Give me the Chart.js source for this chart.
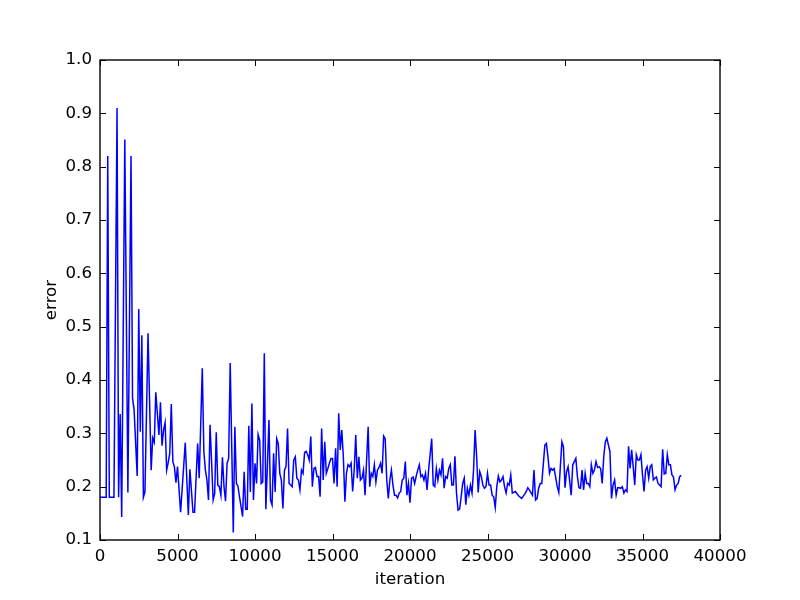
<!DOCTYPE html>
<html>
<head>
<meta charset="utf-8">
<script src="https://cdn.jsdelivr.net/npm/chart.js@4.4.1/dist/chart.umd.min.js"></script>
<style>
  html, body { margin: 0; padding: 0; background: #fff; }
</style>
</head>
<body>
<canvas id="c" width="800" height="600"></canvas>
<script>
// training curve (iteration -> error)
const iterations = [
  0, 400, 500, 600, 900, 1100, 1200, 1300, 1400, 1600,
  1800, 2000, 2100, 2200, 2400, 2500, 2600, 2700, 2800, 2900,
  3100, 3300, 3400, 3500, 3600, 3700, 3800, 3900, 4000, 4100,
  4200, 4300, 4400, 4500, 4600, 4700, 4800, 4900, 5000, 5200,
  5500, 5700, 5800, 6000, 6100, 6300, 6400, 6600, 6700, 6800,
  6900, 7000, 7100, 7300, 7400, 7500, 7600, 7700, 7800, 7900,
  8000, 8100, 8200, 8300, 8400, 8600, 8700, 8800, 8900, 9000,
  9100, 9200, 9300, 9400, 9500, 9600, 9700, 9800, 9900, 10000,
  10100, 10200, 10300, 10400, 10500, 10600, 10700, 10800, 10900, 11000,
  11100, 11200, 11300, 11400, 11500, 11600, 11700, 11800, 11900, 12000,
  12100, 12200, 12300, 12400, 12500, 12600, 12700, 12800, 12900, 13000,
  13100, 13200, 13300, 13400, 13500, 13600, 13700, 13800, 13900, 14000,
  14100, 14200, 14300, 14400, 14500, 14600, 14700, 14800, 14900, 15000,
  15100, 15200, 15300, 15400, 15500, 15600, 15700, 15800, 15900, 16000,
  16100, 16200, 16300, 16400, 16500, 16600, 16700, 16800, 16900, 17000,
  17100, 17200, 17300, 17400, 17500, 17600, 17700, 17800, 17900, 18000,
  18100, 18200, 18300, 18400, 18500, 18600, 18700, 18800, 18900, 19000,
  19100, 19200, 19300, 19400, 19500, 19600, 19700, 19800, 19900, 20000,
  20100, 20200, 20300, 20400, 20500, 20600, 20700, 20800, 20900, 21000,
  21100, 21200, 21400, 21500, 21600, 21700, 21800, 21900, 22000, 22100,
  22200, 22300, 22400, 22500, 22600, 22700, 22800, 22900, 23000, 23100,
  23200, 23300, 23400, 23500, 23600, 23700, 23800, 23900, 24000, 24100,
  24200, 24300, 24400, 24500, 24600, 24700, 24800, 24900, 25000, 25100,
  25200, 25300, 25400, 25500, 25600, 25700, 25800, 25900, 26000, 26100,
  26200, 26300, 26400, 26500, 26600, 26800, 27000, 27200, 27400, 27500,
  27600, 27700, 27900, 28000, 28100, 28200, 28300, 28400, 28500, 28700,
  28800, 28900, 29000, 29100, 29200, 29300, 29500, 29600, 29700, 29800,
  29900, 30000, 30100, 30200, 30400, 30500, 30600, 30700, 30800, 30900,
  31000, 31100, 31200, 31300, 31400, 31500, 31600, 31700, 31800, 31900,
  32000, 32100, 32200, 32300, 32400, 32500, 32600, 32700, 32800, 32900,
  33000, 33100, 33200, 33300, 33400, 33500, 33600, 33700, 33800, 33900,
  34000, 34100, 34200, 34300, 34400, 34500, 34600, 34700, 34800, 34900,
  35000, 35100, 35200, 35300, 35400, 35500, 35600, 35700, 35800, 35900,
  36000, 36100, 36200, 36300, 36400, 36500, 36600, 36700, 36800, 36900,
  37000, 37100, 37200, 37300, 37400, 37500
];
const errors = [
  0.18, 0.18, 0.82, 0.18, 0.18, 0.91, 0.18, 0.336, 0.143, 0.851,
  0.189, 0.82, 0.366, 0.344, 0.22, 0.533, 0.303, 0.484, 0.18, 0.19,
  0.4875, 0.231, 0.291, 0.283, 0.377, 0.3375, 0.297, 0.358, 0.277, 0.306,
  0.32, 0.231, 0.245, 0.2625, 0.355, 0.247, 0.2375, 0.2075, 0.2375, 0.152,
  0.2825, 0.147, 0.2325, 0.152, 0.152, 0.281, 0.216, 0.422, 0.266, 0.231,
  0.2125, 0.175, 0.316, 0.175, 0.1875, 0.302, 0.203, 0.2, 0.184, 0.255,
  0.2, 0.173, 0.244, 0.253, 0.432, 0.114, 0.3125, 0.206, 0.201, 0.181,
  0.1625, 0.144, 0.228, 0.1575, 0.1575, 0.314, 0.19, 0.356, 0.175, 0.244,
  0.206, 0.298, 0.2875, 0.206, 0.209, 0.45, 0.1575, 0.24, 0.325, 0.175,
  0.166, 0.2625, 0.19, 0.29, 0.281, 0.225, 0.2125, 0.159, 0.231, 0.2375,
  0.309, 0.206, 0.203, 0.2, 0.25, 0.256, 0.216, 0.2125, 0.194, 0.231,
  0.225, 0.264, 0.266, 0.26, 0.25, 0.294, 0.2, 0.234, 0.236, 0.219,
  0.219, 0.181, 0.309, 0.2125, 0.284, 0.225, 0.234, 0.244, 0.253, 0.253,
  0.206, 0.272, 0.2, 0.3375, 0.269, 0.306, 0.256, 0.172, 0.225, 0.241,
  0.2375, 0.244, 0.191, 0.231, 0.297, 0.216, 0.256, 0.2125, 0.216, 0.231,
  0.184, 0.25, 0.3125, 0.2, 0.225, 0.219, 0.241, 0.209, 0.231, 0.236,
  0.244, 0.225, 0.295, 0.29, 0.2125, 0.178, 0.2125, 0.231, 0.203, 0.184,
  0.184, 0.179, 0.188, 0.191, 0.2125, 0.216, 0.247, 0.184, 0.206, 0.17,
  0.216, 0.218, 0.206, 0.22, 0.231, 0.241, 0.219, 0.222, 0.2125, 0.225,
  0.194, 0.231, 0.29, 0.203, 0.2, 0.234, 0.2125, 0.231, 0.222, 0.253,
  0.197, 0.219, 0.216, 0.234, 0.241, 0.203, 0.203, 0.257, 0.188, 0.156,
  0.158, 0.181, 0.206, 0.216, 0.166, 0.197, 0.184, 0.203, 0.188, 0.231,
  0.306, 0.256, 0.189, 0.228, 0.219, 0.203, 0.197, 0.2, 0.225, 0.203,
  0.203, 0.184, 0.181, 0.161, 0.2, 0.22, 0.209, 0.2125, 0.219, 0.2,
  0.188, 0.206, 0.203, 0.222, 0.188, 0.191, 0.183, 0.178, 0.186, 0.191,
  0.198, 0.194, 0.184, 0.231, 0.175, 0.178, 0.197, 0.206, 0.206, 0.278,
  0.281, 0.256, 0.225, 0.234, 0.231, 0.234, 0.2, 0.189, 0.2375, 0.284,
  0.275, 0.198, 0.228, 0.2375, 0.184, 0.241, 0.247, 0.253, 0.219, 0.198,
  0.197, 0.231, 0.194, 0.225, 0.206, 0.206, 0.2, 0.241, 0.225, 0.231,
  0.247, 0.236, 0.2375, 0.234, 0.206, 0.256, 0.284, 0.291, 0.278, 0.266,
  0.178, 0.203, 0.2125, 0.184, 0.198, 0.198, 0.197, 0.2, 0.188, 0.194,
  0.191, 0.2755, 0.234, 0.269, 0.2375, 0.203, 0.26, 0.25, 0.25, 0.26,
  0.222, 0.191, 0.231, 0.2375, 0.216, 0.2375, 0.241, 0.2125, 0.216, 0.218,
  0.206, 0.203, 0.2, 0.27, 0.224, 0.225, 0.26, 0.241, 0.241, 0.222,
  0.218, 0.194, 0.203, 0.206, 0.219, 0.221
];
const xTicks = [0, 5000, 10000, 15000, 20000, 25000, 30000, 35000, 40000];
const yTicks = [0.1, 0.2, 0.3, 0.4, 0.5, 0.6, 0.7, 0.8, 0.9, 1.0];

const font = { family: 'DejaVu Sans', size: 16.67 };

// old matplotlib look: closed box, short ticks pointing inwards on every side
const frameTicks = {
  id: 'frameTicks',
  afterDatasetsDraw(chart) {
    const { ctx, chartArea: a, scales } = chart;
    const len = 6;
    ctx.save();
    ctx.strokeStyle = '#000';
    ctx.lineWidth = 1;
    ctx.beginPath();
    scales.x.ticks.forEach(t => {
      const px = Math.round(scales.x.getPixelForValue(t.value)) + 0.5;
      ctx.moveTo(px, a.bottom); ctx.lineTo(px, a.bottom - len);
      ctx.moveTo(px, a.top); ctx.lineTo(px, a.top + len);
    });
    scales.y.ticks.forEach(t => {
      const py = Math.round(scales.y.getPixelForValue(t.value)) + 0.5;
      ctx.moveTo(a.left, py); ctx.lineTo(a.left + len, py);
      ctx.moveTo(a.right, py); ctx.lineTo(a.right - len, py);
    });
    ctx.stroke();
    ctx.lineWidth = 1.4;
    ctx.strokeRect(a.left, a.top, a.right - a.left, a.bottom - a.top);
    ctx.restore();
  }
};

new Chart(document.getElementById('c'), {
  type: 'line',
  data: {
    datasets: [{
      data: iterations.map((it, i) => ({ x: it, y: errors[i] })),
      borderColor: '#0000ff',
      borderWidth: 1.5,
      pointRadius: 0,
      tension: 0,
      fill: false
    }]
  },
  options: {
    responsive: false,
    animation: false,
    layout: { padding: { left: 0, right: 80, top: 60, bottom: 0 } },
    plugins: { legend: { display: false }, tooltip: { enabled: false } },
    scales: {
      x: {
        type: 'linear', min: 0, max: 40000,
        afterBuildTicks: s => { s.ticks = xTicks.map(v => ({ value: v })); },
        afterFit: s => { s.height = 60; },
        grid: { display: false, drawTicks: false },
        border: { display: false },
        ticks: { color: '#000', font, padding: 7, maxRotation: 0, autoSkip: false, callback: v => String(v) },
        title: { display: true, text: 'iteration', color: '#000', font, padding: { top: 0, bottom: 10 } }
      },
      y: {
        type: 'linear', min: 0.1, max: 1.0,
        afterBuildTicks: s => { s.ticks = yTicks.map(v => ({ value: v })); },
        afterFit: s => { s.width = 100; },
        grid: { display: false, drawTicks: false },
        border: { display: false },
        ticks: { color: '#000', font, padding: 8, autoSkip: false, callback: v => v.toFixed(1) },
        title: { display: true, text: 'error', color: '#000', font, padding: { top: 42, bottom: 0 } }
      }
    }
  },
  plugins: [frameTicks]
});
</script>
</body>
</html>
